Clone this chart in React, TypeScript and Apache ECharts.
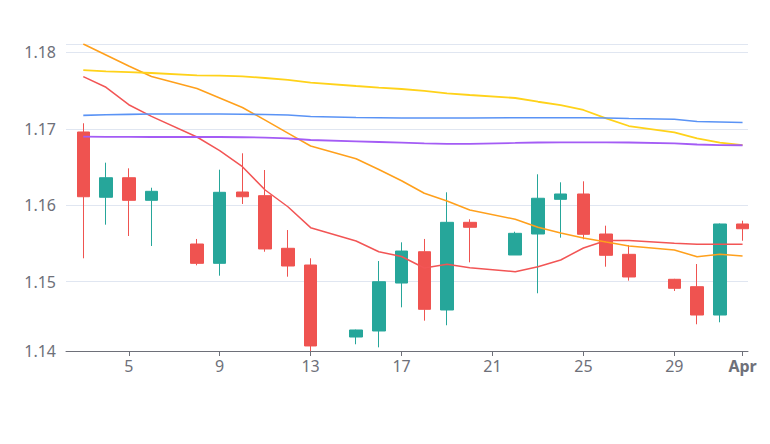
import React, { useEffect, useRef } from "react";
import * as echarts from "echarts";

const dates = [
  "2025-03-03", "2025-03-04", "2025-03-05", "2025-03-06", "2025-03-08", "2025-03-09",
  "2025-03-10", "2025-03-11", "2025-03-12", "2025-03-13", "2025-03-15", "2025-03-16",
  "2025-03-17", "2025-03-18", "2025-03-19", "2025-03-20", "2025-03-22", "2025-03-23",
  "2025-03-24", "2025-03-25", "2025-03-26", "2025-03-27", "2025-03-29", "2025-03-30",
  "2025-03-31", "2025-04-01",
];

const opens = [
  1.16958, 1.16103, 1.16359, 1.16063, 1.15491, 1.15238, 1.16172, 1.16124, 1.15435, 1.15216,
  1.14273, 1.14352, 1.1498, 1.1539, 1.14627, 1.15775, 1.15347, 1.15622, 1.16076, 1.16146,
  1.15622, 1.15356, 1.15029, 1.14932, 1.14561, 1.15753,
];
const closes = [
  1.1611, 1.16359, 1.16063, 1.16181, 1.15238, 1.16168, 1.1611, 1.15426, 1.15203, 1.14156,
  1.14365, 1.14997, 1.15399, 1.14636, 1.15775, 1.1571, 1.15631, 1.1609, 1.16146, 1.15618,
  1.15343, 1.15059, 1.14911, 1.14561, 1.15753, 1.15691,
];
const lows = [
  1.15304, 1.15744, 1.15596, 1.15465, 1.15212, 1.15076, 1.16015, 1.1539, 1.15063, 1.1409,
  1.14178, 1.14138, 1.14662, 1.14487, 1.14427, 1.15251, 1.15347, 1.14846, 1.15574, 1.15553,
  1.15194, 1.15011, 1.14876, 1.1444, 1.14466, 1.15534,
];
const highs = [
  1.17072, 1.16556, 1.16482, 1.16228, 1.15557, 1.16464, 1.16679, 1.1646, 1.15674, 1.15304,
  1.1437, 1.15268, 1.15513, 1.15557, 1.16168, 1.15815, 1.15652, 1.16404, 1.16299, 1.16312,
  1.15731, 1.15478, 1.15035, 1.15229, 1.1576, 1.15796,
];

const maRed = [
  1.17682, 1.17543, 1.17315, 1.17163, 1.16892, 1.16715, 1.16503, 1.16198, 1.15979, 1.15705,
  1.1553, 1.1539, 1.15327, 1.15177, 1.15225, 1.15181, 1.15128, 1.15194, 1.15282, 1.15439,
  1.15537, 1.15537, 1.155, 1.15487, 1.15487, 1.15487,
];
const maOrange = [
  1.1811, 1.17966, 1.17822, 1.17684, 1.17527, 1.17403, 1.17278, 1.17113, 1.16943, 1.16774,
  1.16608, 1.16467, 1.1632, 1.16155, 1.16054, 1.15936, 1.15815, 1.1571, 1.15635, 1.1557,
  1.15517, 1.15465, 1.15413, 1.15325, 1.15356, 1.15334,
];
const maYellow = [
  1.17769, 1.17752, 1.17743, 1.1773, 1.177, 1.17695, 1.17687, 1.17665, 1.17639, 1.17603,
  1.1756, 1.1754, 1.17521, 1.17495, 1.17464, 1.17442, 1.17403, 1.17354, 1.17311, 1.17246,
  1.17137, 1.17036, 1.16954, 1.16875, 1.16818, 1.16787,
];
const maBlue = [
  1.17176, 1.17184, 1.17189, 1.17193, 1.17193, 1.17193, 1.17191, 1.17187, 1.1718, 1.17161,
  1.17147, 1.17144, 1.17141, 1.17141, 1.17141, 1.17141, 1.17144, 1.17145, 1.17145, 1.17145,
  1.17141, 1.17134, 1.17124, 1.17095, 1.17089, 1.17082,
];
const maPurple = [
  1.16896, 1.16895, 1.16893, 1.16892, 1.16892, 1.16892, 1.16889, 1.16884, 1.16875, 1.16853,
  1.16836, 1.16827, 1.16819, 1.1681, 1.16803, 1.16803, 1.16814, 1.1682, 1.16823, 1.16823,
  1.16823, 1.1682, 1.1681, 1.16794, 1.16787, 1.16784,
];

const lineSeries: { name: string; data: number[]; color: string; width: number }[] = [
  { name: "MA5", data: maRed, color: "#f25555", width: 1.5 },
  { name: "MA10", data: maOrange, color: "#ffa01c", width: 1.6 },
  { name: "MA20", data: maYellow, color: "#ffd21a", width: 1.8 },
  { name: "MA30", data: maBlue, color: "#5a93f5", width: 1.6 },
  { name: "MA60", data: maPurple, color: "#a45cf5", width: 1.8 },
];

export default function App() {
  const ref = useRef<HTMLDivElement>(null);
  useEffect(() => {
    if (!ref.current) return;
    const chart = echarts.init(ref.current, undefined, { renderer: "svg" });
    const candle = dates.map((d, i) => [d, opens[i], closes[i], lows[i], highs[i]]);
    chart.setOption({
      animation: false,
      textStyle: { fontFamily: "Noto Sans" },
      grid: { left: 66, right: 22, top: 44, bottom: 93 },
      xAxis: {
        type: "time",
        min: new Date(2025, 2, 2, 5, 45).getTime(),
        max: new Date(2025, 3, 1, 5, 45).getTime(),
        axisLine: { lineStyle: { color: "#6E7079" } },
        axisTick: { lineStyle: { color: "#6E7079" } },
        axisLabel: { color: "#6E7079", fontSize: 16, margin: 7, fontFamily: "Noto Sans" },
        splitLine: { show: false },
      },
      yAxis: {
        type: "value",
        min: "dataMin",
        max: "dataMax",
        scale: true,
        axisLine: { show: false },
        axisTick: { show: false },
        axisLabel: {
          color: "#6E7079",
          fontSize: 16,
          margin: 10,
          fontFamily: "Noto Sans",
          showMaxLabel: false,
          formatter: (v: number) => v.toFixed(2),
        },
        splitLine: { lineStyle: { color: "#E0E6F1" } },
      },
      series: [
        {
          type: "candlestick",
          data: candle,
          barWidth: 13,
          itemStyle: {
            color: "#26a69a",
            color0: "#ef5350",
            borderColor: "#26a69a",
            borderColor0: "#ef5350",
          },
        },
        ...lineSeries.map((s) => ({
          type: "line",
          name: s.name,
          data: dates.map((d, i) => [d, s.data[i]]),
          showSymbol: false,
          symbol: "none",
          lineStyle: { color: s.color, width: s.width },
          itemStyle: { color: s.color },
        })),
      ],
    });
    return () => chart.dispose();
  }, []);
  return (
    <div
      ref={ref}
      style={{ position: "absolute", left: 0, top: 0, width: 770, height: 444 }}
    />
  );
}
